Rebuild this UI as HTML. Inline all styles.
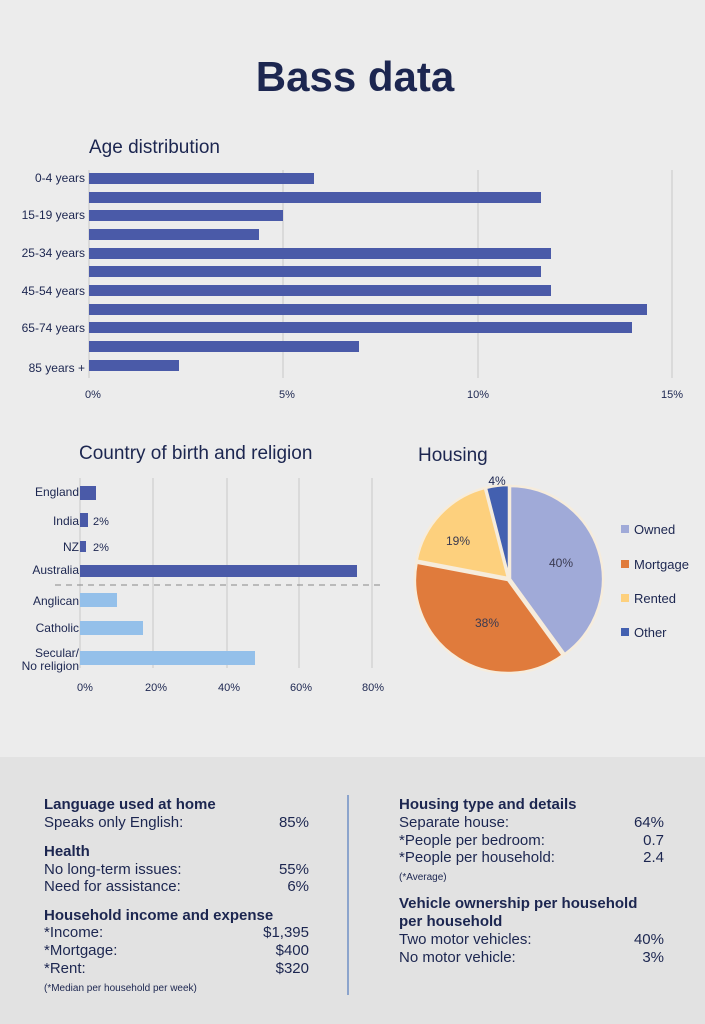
<!DOCTYPE html>
<html><head><meta charset="utf-8"><style>
html,body{margin:0;padding:0;background:#ececec;}
svg{display:block;font-family:"Liberation Sans",sans-serif;}
</style></head><body>
<svg width="705" height="1024" viewBox="0 0 705 1024" xmlns="http://www.w3.org/2000/svg">
<rect width="705" height="1024" fill="#ececec"/>
<text x="355" y="91" text-anchor="middle" font-size="42" font-weight="bold" fill="#1c2650">Bass data</text>

<!-- Age distribution -->
<text x="89" y="153" font-size="19" fill="#1c2650">Age distribution</text>
<g stroke="#c8c8c8" stroke-width="1">
<line x1="283" y1="170" x2="283" y2="378"/><line x1="478" y1="170" x2="478" y2="378"/><line x1="672" y1="170" x2="672" y2="378"/>
<line x1="89" y1="170" x2="89" y2="378"/>
</g>
<g fill="#4a5aa8">
<rect x="89" y="173" width="225" height="11"/>
<rect x="89" y="192" width="452" height="11"/>
<rect x="89" y="210" width="194" height="11"/>
<rect x="89" y="229" width="170" height="11"/>
<rect x="89" y="248" width="462" height="11"/>
<rect x="89" y="266" width="452" height="11"/>
<rect x="89" y="285" width="462" height="11"/>
<rect x="89" y="304" width="558" height="11"/>
<rect x="89" y="322" width="543" height="11"/>
<rect x="89" y="341" width="270" height="11"/>
<rect x="89" y="360" width="90" height="11"/>
</g>
<g font-size="12" fill="#1c2650" text-anchor="end">
<text x="85" y="182">0-4 years</text>
<text x="85" y="219">15-19 years</text>
<text x="85" y="257">25-34 years</text>
<text x="85" y="295">45-54 years</text>
<text x="85" y="332">65-74 years</text>
<text x="85" y="372">85 years +</text>
</g>
<g font-size="11" fill="#1c2650" text-anchor="middle">
<text x="93" y="398">0%</text><text x="287" y="398">5%</text><text x="478" y="398">10%</text><text x="672" y="398">15%</text>
</g>

<!-- Country of birth -->
<text x="79" y="459" font-size="19" fill="#1c2650">Country of birth and religion</text>
<g stroke="#c8c8c8" stroke-width="1">
<line x1="153" y1="478" x2="153" y2="668"/><line x1="227" y1="478" x2="227" y2="668"/><line x1="299" y1="478" x2="299" y2="668"/><line x1="372" y1="478" x2="372" y2="668"/>
<line x1="80" y1="478" x2="80" y2="668"/>
</g>
<g fill="#4a5aa8">
<rect x="80" y="486" width="16" height="14"/>
<rect x="80" y="513" width="8" height="14"/>
<rect x="80" y="541" width="6" height="11"/>
<rect x="80" y="565" width="277" height="12"/>
</g>
<line x1="55" y1="585" x2="380" y2="585" stroke="#888" stroke-width="1" stroke-dasharray="6,5"/>
<g fill="#94c0ea">
<rect x="80" y="593" width="37" height="14"/>
<rect x="80" y="621" width="63" height="14"/>
<rect x="80" y="651" width="175" height="14"/>
</g>
<g font-size="12" fill="#1c2650" text-anchor="end">
<text x="79" y="496">England</text>
<text x="79" y="525">India</text>
<text x="79" y="551">NZ</text>
<text x="79" y="574">Australia</text>
<text x="79" y="605">Anglican</text>
<text x="79" y="632">Catholic</text>
<text x="79" y="657">Secular/</text>
<text x="79" y="670">No religion</text>
</g>
<g font-size="11" fill="#1c2650">
<text x="93" y="525">2%</text><text x="93" y="551">2%</text>
</g>
<g font-size="11" fill="#1c2650" text-anchor="middle">
<text x="85" y="691">0%</text><text x="156" y="691">20%</text><text x="229" y="691">40%</text><text x="301" y="691">60%</text><text x="373" y="691">80%</text>
</g>

<!-- Housing pie -->
<text x="418" y="461" font-size="19" fill="#1c2650">Housing</text>
<g stroke="#f6ecdc" stroke-width="2.5" stroke-linejoin="round">
<path d="M510,579 L510,486 A93,93 0 0 1 564.7,654.2 Z" fill="#a0aad8"/>
<path d="M508,580 L562.7,655.2 A93,93 0 0 1 416.6,562.6 Z" fill="#e07b3c"/>
<path d="M508,578 L416.6,560.6 A93,93 0 0 1 484.9,487.9 Z" fill="#fdd07d"/>
<path d="M509,578 L485.9,487.9 A93,93 0 0 1 509,485 Z" fill="#4360b0"/>
</g>
<g font-size="12" fill="#3a3a50" text-anchor="middle">
<text x="561" y="567">40%</text><text x="487" y="627">38%</text><text x="458" y="545">19%</text><text x="497" y="485" fill="#1c2650">4%</text>
</g>
<rect x="621" y="525" width="8" height="8" fill="#a0aad8"/>
<rect x="621" y="560" width="8" height="8" fill="#e07b3c"/>
<rect x="621" y="594" width="8" height="8" fill="#fdd07d"/>
<rect x="621" y="628" width="8" height="8" fill="#4360b0"/>
<g font-size="13" fill="#1c2650">
<text x="634" y="534">Owned</text><text x="634" y="569">Mortgage</text><text x="634" y="603">Rented</text><text x="634" y="637">Other</text>
</g>

<!-- Bottom panel -->
<rect x="0" y="757" width="705" height="267" fill="#e2e2e2"/>
<line x1="348" y1="795" x2="348" y2="995" stroke="#6f8fc4" stroke-width="1.5"/>
<g font-size="15" fill="#1c2650">
<text x="44" y="809" font-weight="bold">Language used at home</text>
<text x="44" y="827">Speaks only English:</text><text x="309" y="827" text-anchor="end">85%</text>
<text x="44" y="856" font-weight="bold">Health</text>
<text x="44" y="874">No long-term issues:</text><text x="309" y="874" text-anchor="end">55%</text>
<text x="44" y="891">Need for assistance:</text><text x="309" y="891" text-anchor="end">6%</text>
<text x="44" y="920" font-weight="bold">Household income and expense</text>
<text x="44" y="937">*Income:</text><text x="309" y="937" text-anchor="end">$1,395</text>
<text x="44" y="955">*Mortgage:</text><text x="309" y="955" text-anchor="end">$400</text>
<text x="44" y="973">*Rent:</text><text x="309" y="973" text-anchor="end">$320</text>
<text x="44" y="991" font-size="10">(*Median per household per week)</text>

<text x="399" y="809" font-weight="bold">Housing type and details</text>
<text x="399" y="827">Separate house:</text><text x="664" y="827" text-anchor="end">64%</text>
<text x="399" y="845">*People per bedroom:</text><text x="664" y="845" text-anchor="end">0.7</text>
<text x="399" y="862">*People per household:</text><text x="664" y="862" text-anchor="end">2.4</text>
<text x="399" y="880" font-size="10">(*Average)</text>
<text x="399" y="908" font-weight="bold">Vehicle ownership per household</text>
<text x="399" y="926" font-weight="bold">per household</text>
<text x="399" y="944">Two motor vehicles:</text><text x="664" y="944" text-anchor="end">40%</text>
<text x="399" y="962">No motor vehicle:</text><text x="664" y="962" text-anchor="end">3%</text>
</g>
</svg>
</body></html>
